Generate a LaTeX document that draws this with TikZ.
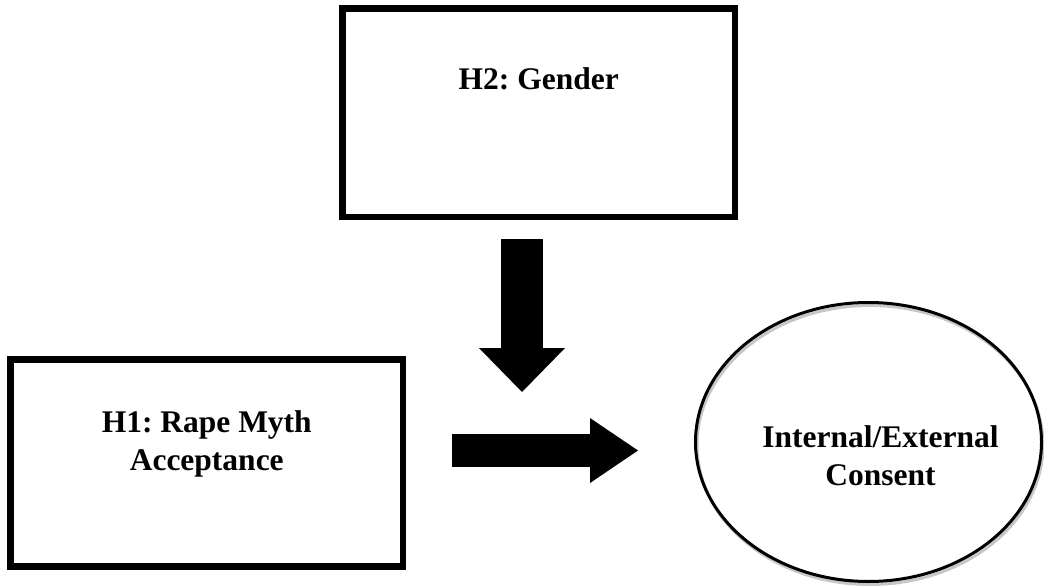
\documentclass[tikz,border=0pt]{standalone}
\usepackage{fontspec}
\setmainfont{Liberation Serif}
\frenchspacing
\usetikzlibrary{positioning, arrows.meta, shapes.geometric, shadows}
\tikzset{
	x=1pt, y=-1pt, % Coordenadas en pixeles, y hacia abajo
	texto/.style={font=\fontsize{31.5}{38}\selectfont\bfseries, align=center, inner sep=0pt}, % Texto de los nodos
	caja/.style={texto, draw, line width=6.5pt, minimum width=392.5pt}, % Rectangulos
	ovalo/.style={ellipse, draw, line width=3pt, minimum width=346pt, minimum height=279pt, inner sep=0pt,
		general shadow={draw=black!22, line width=3pt, shadow xshift=1.5pt, shadow yshift=-3pt}}, % Elipse con sombra
	flecha/.style n args={3}{line width=#1, -{Triangle[width=#2, length=#3, line width=0pt]}} % Flechas gruesas
}

\begin{document}
\begin{tikzpicture}
	\useasboundingbox (0,0) rectangle (1044,588);
	\node[caja, text height=81.5pt, text depth=127pt] (h2) at (538.75,112.75) {H2: Gender};
	\node[caja, text height=110.5pt, text depth=96.5pt] (h1) at (206.75,463) {H1: Rape Myth\\Acceptance};
	\node[ovalo] (cons) at (868.5,442) {};
	\node[texto] (consLbl) at ([shift={(12,14)}]cons.center) {Internal/External\\Consent};
	\coordinate (g0) at (522,239);
	\coordinate (g1) at (522,392);
	\coordinate (r0) at (452,450.5);
	\coordinate (r1) at (638,450.5);
	\draw[flecha={42pt}{86pt}{44pt}] (g0) -- (g1);
	\draw[flecha={33pt}{65pt}{48pt}] (r0) -- (r1);
\end{tikzpicture}
\end{document}
